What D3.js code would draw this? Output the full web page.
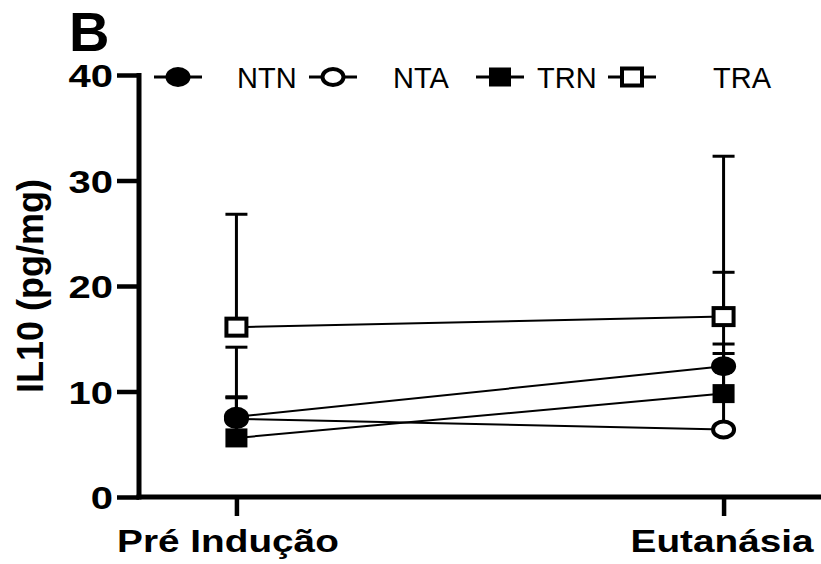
<!DOCTYPE html>
<html>
<head>
<meta charset="utf-8">
<script src="https://cdn.jsdelivr.net/npm/d3@7"></script>
<style>
  html, body { margin: 0; padding: 0; background: #fff; }
  svg { display: block; font-family: "Liberation Sans", Arial, sans-serif; }
</style>
</head>
<body>
<svg id="chart" width="821" height="564"></svg>
<script>
// Time points on the x axis
const timepoints = ["Pré Indução", "Eutanásia"];

// Group means (pg/mg) at each time point
const seriesNames = ["NTN", "NTA", "TRN", "TRA"];
const ntnMean = [7.6, 12.4];
const ntaMean = [7.4, 6.4];
const trnMean = [5.6, 9.8];
const traMean = [16.1, 17.1];

// Upper end of each error bar (pg/mg)
const ntnUpper = [14.2, 21.3];
const ntaUpper = [9.5, 13.6];
const trnUpper = [9.4, 14.5];
const traUpper = [26.8, 32.3];

// Y axis ticks
const yTicks = [0, 10, 20, 30, 40];

const means = [ntnMean, ntaMean, trnMean, traMean];
const uppers = [ntnUpper, ntaUpper, trnUpper, traUpper];
const shapes = ["circle", "circle", "square", "square"];
const filled = [true, false, true, false];

const series = seriesNames.map((name, i) => ({
  name, shape: shapes[i], filled: filled[i],
  values: timepoints.map((t, j) => ({ t, mean: means[i][j], upper: uppers[i][j] }))
}));

const svg = d3.select("#chart");
const W = 821, H = 564;
const plotLeft = 139, plotBottom = 497, plotTop = 75;
const wide = 1.25; // horizontal widening of the bold axis lettering

const y = d3.scaleLinear().domain([0, 40]).range([plotBottom, plotTop]);
const x = d3.scalePoint().domain(timepoints).range([plotLeft, W]).padding(0.2);

// Panel letter
svg.append("text")
  .attr("x", 69).attr("y", 51)
  .attr("font-size", 56).attr("font-weight", "bold")
  .text("B");

// Y axis
const yAxis = svg.append("g")
  .attr("transform", `translate(${plotLeft},0)`)
  .call(d3.axisLeft(y).tickValues(yTicks).tickSize(22).tickSizeOuter(0).tickPadding(4));
yAxis.select(".domain").attr("stroke-width", 5).attr("d", `M0,${y(40) - 2}V${y(0) + 2.5}`);
yAxis.selectAll(".tick line").attr("stroke-width", 4.5);
yAxis.selectAll(".tick text")
  .attr("font-size", 32).attr("font-weight", "bold")
  .attr("font-family", "Liberation Sans, Arial, sans-serif")
  .attr("fill", "#000").attr("dy", "0.36em")
  .attr("x", -26 / wide)
  .attr("transform", `scale(${wide},1)`);

// X axis
const xLabelShift = [-9, -2];
const xAxis = svg.append("g")
  .attr("transform", `translate(0,${plotBottom})`)
  .call(d3.axisBottom(x).tickSize(19).tickSizeOuter(0).tickPadding(10));
xAxis.select(".domain").attr("stroke-width", 5).attr("d", `M${plotLeft - 2.5},0H${W}`);
xAxis.selectAll(".tick line").attr("stroke-width", 4.5);
xAxis.selectAll(".tick text")
  .attr("font-size", 31).attr("font-weight", "bold")
  .attr("font-family", "Liberation Sans, Arial, sans-serif")
  .attr("fill", "#000").attr("y", 55).attr("dy", 0)
  .attr("x", (d, i) => xLabelShift[i] / wide)
  .attr("transform", `scale(${wide},1)`);

// Y axis title
svg.append("text")
  .attr("transform", `translate(43,${(y(0) + y(40)) / 2}) rotate(-90)`)
  .attr("text-anchor", "middle")
  .attr("font-size", 36).attr("font-weight", "bold")
  .text("IL10 (pg/mg)");

// Error bars (upper only)
const capHalf = 11;
const errG = svg.append("g");
series.forEach(s => {
  s.values.forEach(v => {
    errG.append("line")
      .attr("x1", x(v.t)).attr("x2", x(v.t))
      .attr("y1", y(v.mean)).attr("y2", y(v.upper))
      .attr("stroke", "#000").attr("stroke-width", 3);
    errG.append("line")
      .attr("x1", x(v.t) - capHalf).attr("x2", x(v.t) + capHalf)
      .attr("y1", y(v.upper)).attr("y2", y(v.upper))
      .attr("stroke", "#000").attr("stroke-width", 3);
  });
});

// Connecting lines
const line = d3.line().x(d => x(d.t)).y(d => y(d.mean));
svg.append("g").selectAll("path").data(series).join("path")
  .attr("d", d => line(d.values))
  .attr("fill", "none").attr("stroke", "#000").attr("stroke-width", 2);

// Marker drawing helper
function drawMarker(g, shape, isFilled, cx, cy) {
  const sw = isFilled ? 0 : 4;
  if (shape === "circle") {
    const rx = isFilled ? 12.5 : 10.5, ry = isFilled ? 10 : 8;
    g.append("ellipse")
      .attr("cx", cx).attr("cy", cy).attr("rx", rx).attr("ry", ry)
      .attr("fill", isFilled ? "#000" : "#fff")
      .attr("stroke", "#000").attr("stroke-width", sw);
  } else {
    const w = isFilled ? 22 : 20, h = isFilled ? 19 : 17;
    g.append("rect")
      .attr("x", cx - w / 2).attr("y", cy - h / 2).attr("width", w).attr("height", h)
      .attr("fill", isFilled ? "#000" : "#fff")
      .attr("stroke", "#000").attr("stroke-width", sw);
  }
}

// Markers, drawn so filled circle sits on top of the open one
const drawOrder = [3, 2, 1, 0];
const markG = svg.append("g");
drawOrder.forEach(i => {
  const s = series[i];
  s.values.forEach(v => drawMarker(markG, s.shape, s.filled, x(v.t), y(v.mean)));
});

// Legend
const legendX = [178, 333, 500, 632];
const legendTextX = [237, 393, 537, 713];
const legendY = 77;
const legG = svg.append("g");
series.forEach((s, i) => {
  const cx = legendX[i];
  legG.append("line")
    .attr("x1", cx - 24).attr("x2", cx + 24)
    .attr("y1", legendY).attr("y2", legendY)
    .attr("stroke", "#000").attr("stroke-width", 3);
  drawMarker(legG, s.shape, s.filled, cx, legendY);
  legG.append("text")
    .attr("x", legendTextX[i]).attr("y", legendY + 10.5)
    .attr("font-size", 29)
    .text(s.name);
});
</script>
</body>
</html>
